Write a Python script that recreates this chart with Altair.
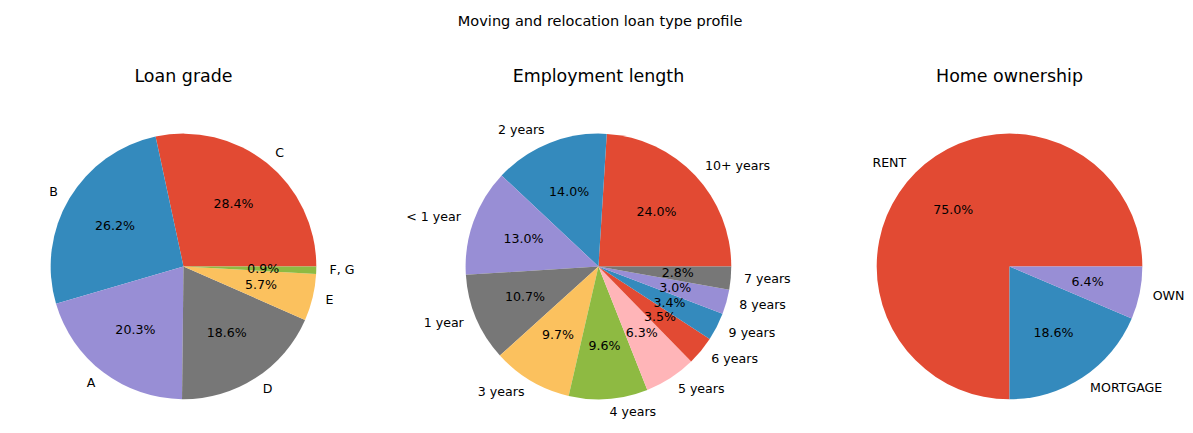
import altair as alt
import pandas as pd
import numpy as np
import math

grade_cats = ["C", "B", "A", "D", "E", "F, G"]
grade_vals = [28.4, 26.2, 20.3, 18.6, 5.7, 0.9]
emp_cats = ["10+ years", "2 years", "< 1 year", "1 year", "3 years", "4 years",
            "5 years", "6 years", "9 years", "8 years", "7 years"]
emp_vals = [24.0, 14.0, 13.0, 10.7, 9.7, 9.6, 6.3, 3.5, 3.4, 3.0, 2.8]
home_cats = ["RENT", "MORTGAGE", "OWN"]
home_vals = [75.0, 18.6, 6.4]
palette = ["#E24A33", "#348ABD", "#988ED5", "#777777", "#FBC15E", "#8EBA42", "#FFB5B8"]

R = 137
FONT = "DejaVu Sans"

def make(cats, vals, title):
    v = np.array(vals)
    cum = np.cumsum(v) - v / 2
    ang = cum / v.sum() * 2 * math.pi
    right = np.cos(ang) >= 0
    df = pd.DataFrame({
        "cat": cats, "val": vals, "idx": range(len(cats)),
        "color": [palette[i % len(palette)] for i in range(len(cats))],
        "pct": [f"{x:.1f}%" for x in vals],
        "lab_r": [c if r else "" for c, r in zip(cats, right)],
        "lab_l": [c if not r else "" for c, r in zip(cats, right)],
    })
    th = alt.Theta("val:Q", stack=True, scale=alt.Scale(range=[2.5 * math.pi, 0.5 * math.pi]))
    base = alt.Chart(df).encode(theta=th, order=alt.Order("idx:Q"))
    arc = base.mark_arc(outerRadius=R).encode(color=alt.Color("color:N", scale=None))
    pct = base.mark_text(radius=R * 0.6, font=FONT, fontSize=13, color="black").encode(text="pct:N")
    lr = base.mark_text(radius=R * 1.1, font=FONT, fontSize=13, color="black", align="left").encode(text="lab_r:N")
    ll = base.mark_text(radius=R * 1.1, font=FONT, fontSize=13, color="black", align="right").encode(text="lab_l:N")
    return alt.layer(arc, pct, lr, ll).properties(
        width=346, height=300,
        title=alt.TitleParams(title, font=FONT, fontSize=18, fontWeight="normal", offset=36))

chart = alt.hconcat(
    make(grade_cats, grade_vals, "Loan grade"),
    make(emp_cats, emp_vals, "Employment length"),
    make(home_cats, home_vals, "Home ownership"),
    spacing=52,
).properties(
    title=alt.TitleParams("Moving and relocation loan type profile", font=FONT, fontSize=15,
                          fontWeight="normal", anchor="middle", offset=41),
    padding={"left": 8, "right": 0, "top": 0, "bottom": 0},
).configure_view(stroke=None)

chart.save("out.html", embed_options={"renderer": "svg", "actions": False})
